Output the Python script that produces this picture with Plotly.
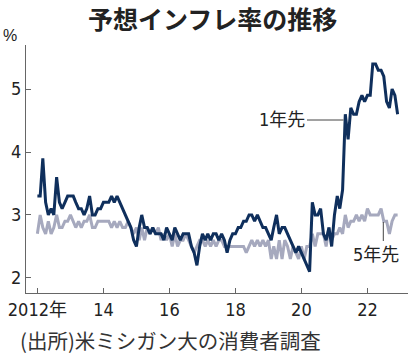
import pandas as pd
import plotly.graph_objects as go

# 1-year-ahead expected inflation (%), monthly Jan..Dec
one_2012 = [3.3, 3.3, 3.9, 3.2, 3.0, 3.1, 3.0, 3.6, 3.2, 3.1, 3.2, 3.3]
one_2013 = [3.3, 3.3, 3.2, 3.1, 3.1, 3.0, 3.1, 3.3, 3.0, 3.0, 3.1, 3.1]
one_2014 = [3.2, 3.2, 3.2, 3.3, 3.2, 3.3, 3.2, 3.1, 3.0, 2.9, 2.8, 2.6]
one_2015 = [2.5, 2.8, 3.0, 2.8, 2.8, 2.7, 2.8, 2.7, 2.7, 2.7, 2.6, 2.8]
one_2016 = [2.7, 2.6, 2.8, 2.7, 2.6, 2.7, 2.7, 2.7, 2.5, 2.4, 2.2, 2.5]
one_2017 = [2.7, 2.6, 2.7, 2.6, 2.7, 2.7, 2.6, 2.7, 2.6, 2.4, 2.6, 2.7]
one_2018 = [2.7, 2.8, 2.8, 2.9, 2.9, 3.0, 3.0, 2.9, 3.0, 2.9, 2.8, 2.8]
one_2019 = [2.7, 2.6, 2.8, 3.0, 2.7, 2.8, 2.8, 2.7, 2.6, 2.5, 2.4, 2.5]
one_2020 = [2.4, 2.3, 2.2, 2.1, 3.2, 3.0, 3.0, 3.1, 2.7, 2.6, 2.8, 2.5]
one_2021 = [3.0, 3.3, 3.1, 3.4, 4.6, 4.2, 4.7, 4.6, 4.6, 4.8, 4.9, 4.8]
one_2022 = [4.9, 4.9, 5.4, 5.4, 5.3, 5.3, 5.2, 4.8, 4.7, 5.0, 4.9, 4.6]

# 5-year-ahead expected inflation (%)
five_2012 = [2.7, 3.0, 2.8, 2.7, 2.9, 2.7, 2.8, 3.0, 2.8, 2.8, 2.9, 2.9]
five_2013 = [3.0, 2.9, 2.8, 2.9, 2.8, 2.9, 2.9, 3.0, 2.8, 2.8, 2.9, 2.9]
five_2014 = [2.9, 2.9, 2.9, 2.8, 2.9, 2.8, 2.9, 2.8, 2.8, 2.9, 2.8, 2.7]
five_2015 = [2.8, 2.6, 2.8, 2.6, 2.8, 2.7, 2.8, 2.7, 2.8, 2.6, 2.7, 2.6]
five_2016 = [2.7, 2.5, 2.7, 2.5, 2.6, 2.6, 2.7, 2.6, 2.5, 2.4, 2.5, 2.6]
five_2017 = [2.6, 2.5, 2.6, 2.5, 2.6, 2.5, 2.6, 2.6, 2.5, 2.5, 2.5, 2.5]
five_2018 = [2.5, 2.5, 2.5, 2.5, 2.4, 2.5, 2.6, 2.5, 2.6, 2.5, 2.6, 2.5]
five_2019 = [2.6, 2.3, 2.5, 2.3, 2.6, 2.3, 2.6, 2.5, 2.3, 2.5, 2.4, 2.3]
five_2020 = [2.5, 2.3, 2.5, 2.5, 2.7, 2.5, 2.7, 2.7, 2.7, 2.5, 2.8, 2.6]
five_2021 = [2.7, 2.7, 2.8, 2.7, 3.0, 2.8, 2.9, 2.9, 3.0, 2.9, 3.0, 2.9]
five_2022 = [3.1, 3.0, 3.0, 3.0, 3.0, 3.1, 2.9, 2.9, 2.7, 2.9, 3.0, 3.0]

one_year = (one_2012 + one_2013 + one_2014 + one_2015 + one_2016 + one_2017
            + one_2018 + one_2019 + one_2020 + one_2021 + one_2022)
five_year = (five_2012 + five_2013 + five_2014 + five_2015 + five_2016 + five_2017
             + five_2018 + five_2019 + five_2020 + five_2021 + five_2022)
months = pd.date_range("2012-01-01", periods=len(one_year), freq="MS")

tick_vals = ["2012-01-01", "2014-01-01", "2016-01-01", "2018-01-01", "2020-01-01", "2022-01-01"]
tick_text = ["2012年", "14", "16", "18", "20", "22"]
y_ticks = [2, 3, 4, 5]

title = "予想インフレ率の推移"
source = "(出所)米ミシガン大の消費者調査"
label_one = "1年先"
label_five = "5年先"

NARROW = "DejaVu Sans Condensed, Noto Sans CJK JP, sans-serif"
CJK = "Noto Sans CJK JP, sans-serif"
DARK = "#0f2f5c"
GRAY = "#a6a9be"
AX = "#666666"

fig = go.Figure()
fig.add_trace(go.Scatter(x=months, y=five_year, mode="lines",
                         line=dict(color=GRAY, width=3), hoverinfo="skip"))
fig.add_trace(go.Scatter(x=months, y=one_year, mode="lines",
                         line=dict(color=DARK, width=3), hoverinfo="skip"))

fig.update_layout(
    width=420, height=361,
    margin=dict(l=26, r=12, t=45, b=68, autoexpand=False),
    paper_bgcolor="white", plot_bgcolor="white",
    showlegend=False,
    font=dict(family=NARROW, color="#222222"),
)
fig.update_xaxes(
    automargin=False,
    range=["2011-08-28", "2023-03-26"],
    tickvals=tick_vals, ticktext=tick_text,
    ticks="inside", ticklen=5, tickcolor=AX, tickwidth=1,
    showline=True, linecolor=AX, linewidth=1,
    showgrid=False, zeroline=False,
    tickfont=dict(family=NARROW, size=18, color="#222222"),
)
fig.update_yaxes(
    automargin=False,
    range=[1.76, 5.70],
    tickvals=y_ticks,
    ticks="inside", ticklen=5, tickcolor=AX, tickwidth=1,
    showline=True, linecolor=AX, linewidth=1,
    showgrid=False, zeroline=False,
    tickfont=dict(family=NARROW, size=18, color="#222222"),
)

def px_x(px):
    return (px - 26) / 382.0

def px_y(py):
    return (293 - py) / 248.0

anns = [
    dict(text=f"<b>{title}</b>", x=px_x(212.5), y=px_y(17.5), xanchor="center", yanchor="middle",
         font=dict(family=CJK, size=25, color="#222222")),
    dict(text="%", x=px_x(1), y=px_y(35), xanchor="left", yanchor="middle",
         font=dict(family="Liberation Sans, sans-serif", size=16, color="#222222")),
    dict(text=source, x=px_x(18), y=px_y(340), xanchor="left", yanchor="middle",
         font=dict(family=CJK, size=20.5, color="#333333")),
    dict(text=label_one, x=px_x(307), y=px_y(120), xanchor="right", yanchor="middle",
         font=dict(family=NARROW, size=18, color="#222222")),
    dict(text=label_five, x=px_x(375.5), y=px_y(254), xanchor="center", yanchor="middle",
         font=dict(family=NARROW, size=18, color="#222222")),
]
for a in anns:
    a.update(xref="paper", yref="paper", showarrow=False)
fig.update_layout(annotations=anns)

fig.add_shape(type="line", xref="paper", yref="paper",
              x0=px_x(307), x1=px_x(343.5), y0=px_y(120), y1=px_y(120),
              line=dict(color="#444444", width=1))
fig.add_shape(type="line", xref="paper", yref="paper",
              x0=px_x(383.3), x1=px_x(383.3), y0=px_y(222), y1=px_y(241),
              line=dict(color="#444444", width=1))

fig.write_html("out.html", config={"displayModeBar": False},
               post_script="document.body.style.margin='0';")
